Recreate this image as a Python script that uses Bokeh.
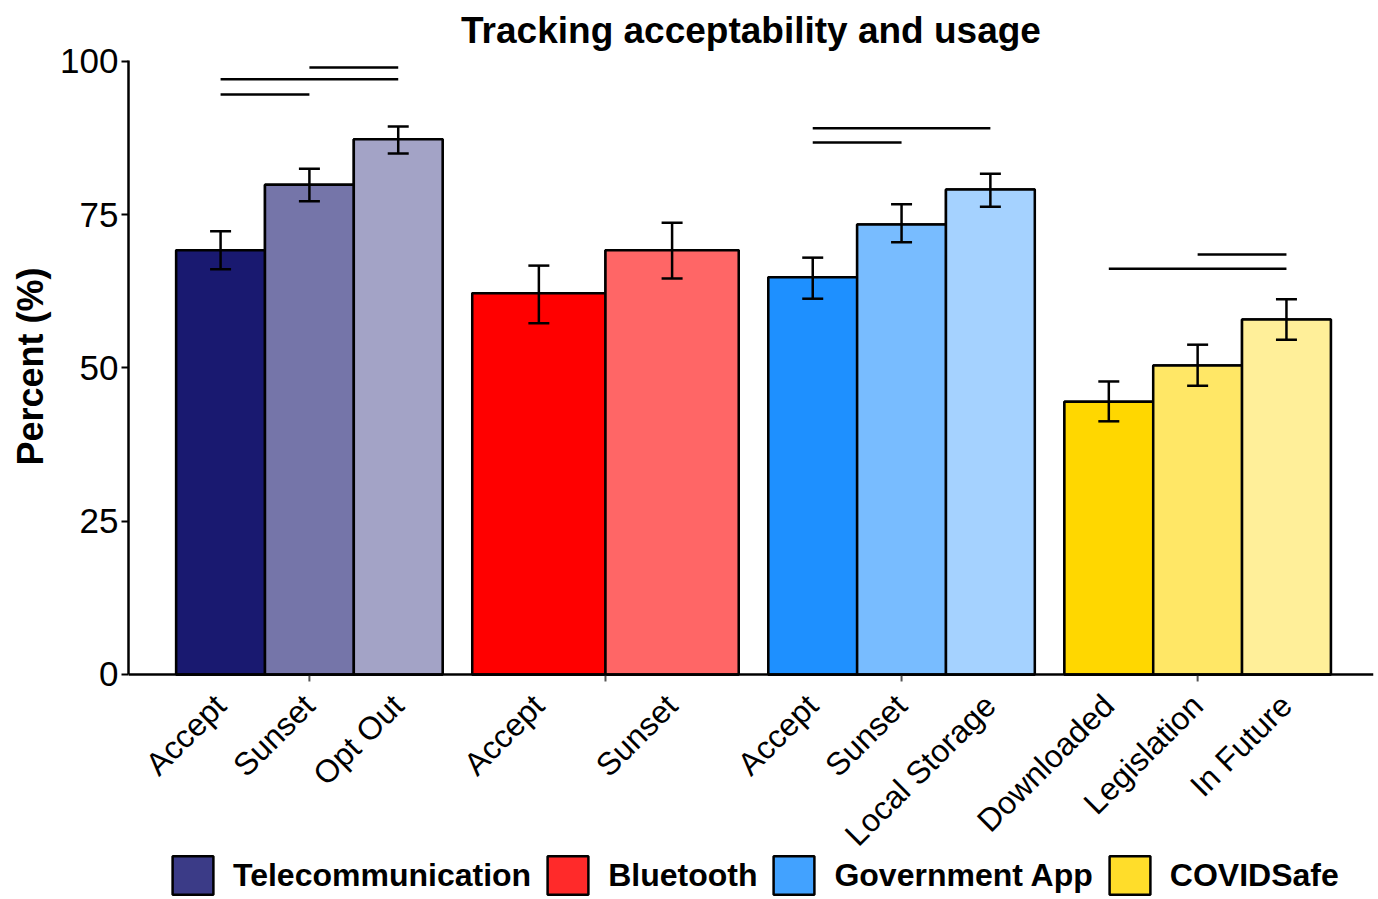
import math
from bokeh.plotting import figure
from bokeh.models import (ColumnDataSource, Range1d, FixedTicker, Whisker, Span,
                          TeeHead, Legend, LegendItem, Title)
from bokeh.core.properties import value
from bokeh.embed import file_html
from bokeh.resources import INLINE

# ---------------- data ----------------
groups = ["Telecommunication", "Bluetooth", "Government App", "COVIDSafe"]
group_of = [0, 0, 0, 1, 1, 2, 2, 2, 3, 3, 3]
labels = ["Accept", "Sunset", "Opt Out",
          "Accept", "Sunset",
          "Accept", "Sunset", "Local Storage",
          "Downloaded", "Legislation", "In Future"]
values = [69.2, 79.9, 87.3,
          62.2, 69.2,
          64.8, 73.4, 79.1,
          44.5, 50.4, 57.9]
err_low = [66.1, 77.2, 85.0,
           57.3, 64.6,
           61.3, 70.5, 76.3,
           41.3, 47.1, 54.6]
err_high = [72.3, 82.5, 89.4,
            66.7, 73.7,
            68.0, 76.7, 81.7,
            47.8, 53.8, 61.2]
bar_colors = ["#191970", "#7575A9", "#A3A3C6",
              "#FF0000", "#FF6666",
              "#1E90FF", "#78BCFF", "#A5D2FF",
              "#FFD700", "#FFE766", "#FFEF99"]
legend_colors = ["#3B3B87", "#FF2A2A", "#42A2FF", "#FFDD2A"]

# significance bars: (group, from bar index, to bar index, height)
sig_group = [0, 0, 0, 2, 2, 3, 3]
sig_from = [0, 0, 1, 0, 0, 0, 1]
sig_to = [1, 2, 2, 2, 1, 2, 2]
sig_y = [94.6, 97.1, 99.0, 89.1, 86.8, 66.2, 68.5]

y_ticks = [0, 25, 50, 75, 100]

# ---------------- positions (dodge width 0.9) ----------------
dodge = 0.9
counts = [group_of.count(g) for g in range(len(groups))]
group_centers = [g + 1 for g in range(len(groups))]


def bar_x(g, k):
    n = counts[g]
    w = dodge / n
    return g + 1 - dodge / 2 + w * (k + 0.5)


xs, widths = [], []
seen = {}
for g in group_of:
    k = seen.get(g, 0)
    seen[g] = k + 1
    xs.append(bar_x(g, k))
    widths.append(dodge / counts[g])

sig_x0 = [bar_x(g, a) for g, a in zip(sig_group, sig_from)]
sig_x1 = [bar_x(g, b) for g, b in zip(sig_group, sig_to)]

src = ColumnDataSource(dict(x=xs, w=widths, top=values, lo=err_low, hi=err_high,
                            color=bar_colors, label=labels, base=[0] * len(xs)))

FONT = "Liberation Sans"

p = figure(width=1376, height=897, output_backend="svg", toolbar_location=None,
           x_range=Range1d(0.389, 4.594), y_range=Range1d(-36.38, 100.16),
           min_border_left=127, min_border_right=3, min_border_top=60,
           min_border_bottom=0)
p.title.text = "Tracking acceptability and usage"
p.title.align = "center"
p.title.text_font = FONT
p.title.text_font_size = "37px"
p.title.text_font_style = "bold"
p.title.text_color = "black"
p.title.vertical_align = "top"
p.title.standoff = 16

p.outline_line_color = None
p.xgrid.visible = False
p.ygrid.visible = False
p.xaxis.visible = False

# legend swatch renderers (drawn underneath the real bars, exactly covered)
items = []
for gi, (name, col) in enumerate(zip(groups, legend_colors)):
    sub = ColumnDataSource(dict(
        x=[x for x, g in zip(xs, group_of) if g == gi],
        w=[w for w, g in zip(widths, group_of) if g == gi],
        top=[v for v, g in zip(values, group_of) if g == gi]))
    r = p.vbar(x="x", top="top", width="w", bottom=0, source=sub, fill_color=col,
               line_color="black", line_width=2.5)
    items.append(LegendItem(label=name, renderers=[r]))

p.vbar(x="x", top="top", width="w", bottom=0, source=src, fill_color="color",
       line_color="black", line_width=2.5)

wh = Whisker(base="x", lower="lo", upper="hi", source=src, line_color="black",
             line_width=2.5, level="overlay",
             upper_head=TeeHead(size=21, line_color="black", line_width=2.5),
             lower_head=TeeHead(size=21, line_color="black", line_width=2.5))
p.add_layout(wh)

sig_src = ColumnDataSource(dict(x0=sig_x0, x1=sig_x1, y=sig_y))
p.segment(x0="x0", y0="y", x1="x1", y1="y", source=sig_src, line_color="black",
          line_width=2.5)

# x axis line and group ticks
p.add_layout(Span(location=0, dimension="width", line_color="black", line_width=2.5))
p.ray(x=group_centers, y=[0] * len(group_centers), length=7, length_units="screen",
      angle=-90, angle_units="deg", line_color="#555555", line_width=2)

# rotated bar labels
p.text(x="x", y="base", text="label", source=src, angle=45, angle_units="deg",
       text_align="right", text_baseline="top", x_offset=-13, y_offset=13,
       text_font=value(FONT), text_font_size="32px", text_color="black")

# y axis
p.yaxis.ticker = FixedTicker(ticks=y_ticks)
p.yaxis.bounds = (0, 100.16)
p.yaxis.major_label_text_font = FONT
p.yaxis.major_label_text_font_size = "35px"
p.yaxis.major_label_text_color = "black"
p.yaxis.major_label_standoff = 3
p.yaxis.axis_line_width = 2.5
p.yaxis.axis_line_color = "black"
p.yaxis.major_tick_line_width = 2
p.yaxis.major_tick_line_color = "black"
p.yaxis.major_tick_out = 7
p.yaxis.major_tick_in = 0
p.yaxis.minor_tick_line_color = None

# y axis title, centred on the 0-100 part of the axis
ylab = Title(text="Percent (%)", align="right", offset=207, standoff=14,
             text_font=FONT, text_font_size="36px", text_font_style="bold",
             text_color="black")
p.add_layout(ylab, "left")

# legend
leg = Legend(items=items, location=(39, -2), orientation="horizontal",
             glyph_width=51, glyph_height=48, label_standoff=15, spacing=11,
             padding=0, margin=0, border_line_alpha=0, background_fill_alpha=0,
             label_text_font=FONT, label_text_font_size="32px",
             label_text_font_style="bold", label_text_color="black")
p.add_layout(leg, "center")

open("out.html", "w").write(file_html(p, INLINE))
